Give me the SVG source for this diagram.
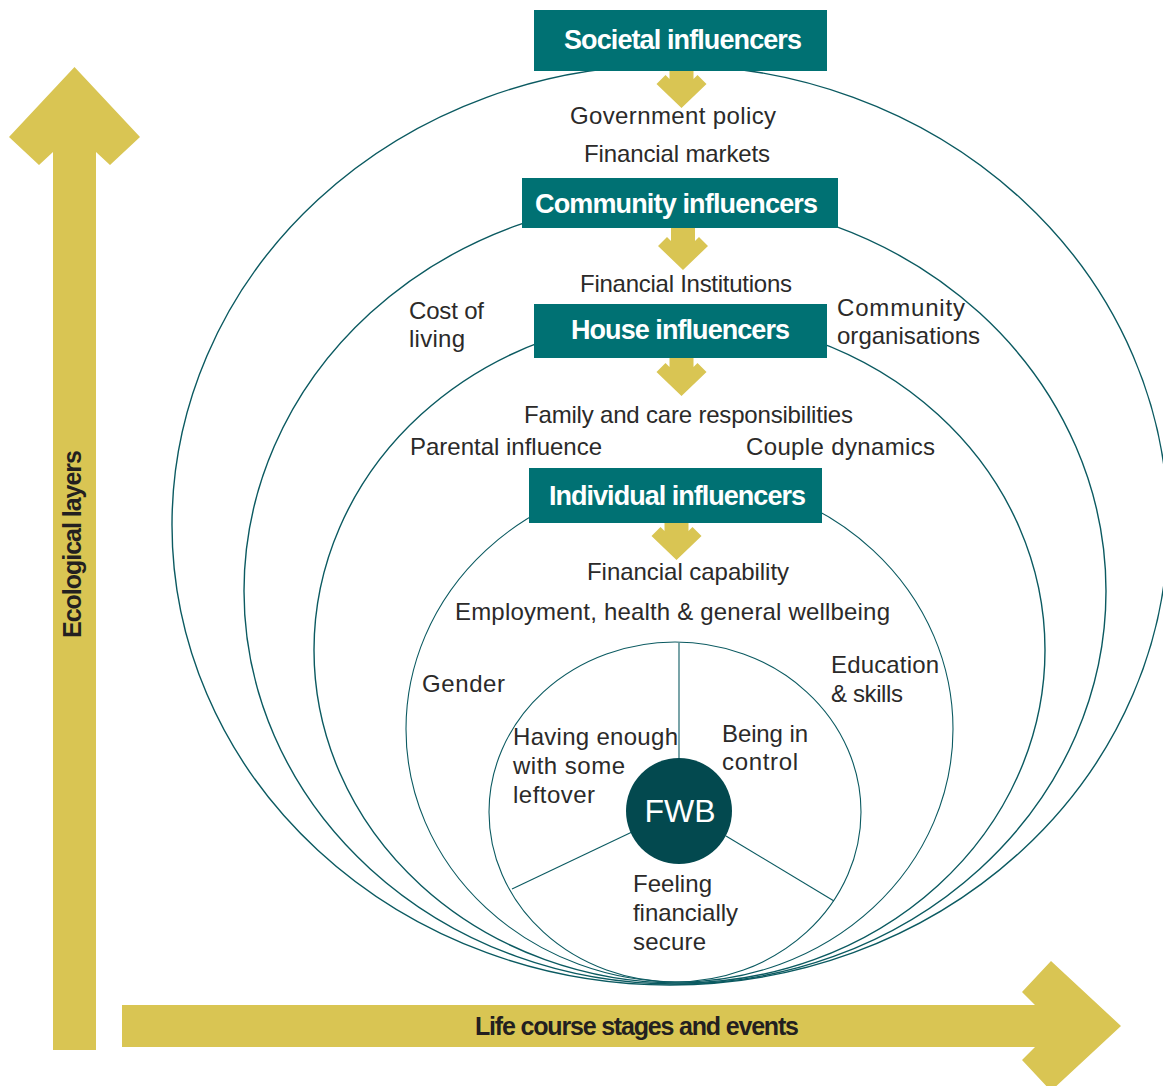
<svg xmlns="http://www.w3.org/2000/svg" width="1163" height="1086" viewBox="0 0 1163 1086">
<style>
.ring{fill:none;stroke:#0b5a61;stroke-width:1.4}
.ring2{fill:none;stroke:#0b5a61;stroke-width:1.1}
.sep{stroke:#0b5a61;stroke-width:1.1}
.box{fill:#007173}
.yel{fill:#d9c553}
.hd{font-family:"Liberation Sans",Arial,sans-serif;font-weight:bold;font-size:27px;fill:#ffffff;text-anchor:middle}
.ax{font-family:"Liberation Sans",Arial,sans-serif;font-weight:bold;font-size:25px;fill:#231f20}
.lb{font-family:"Liberation Sans",Arial,sans-serif;font-size:24px;fill:#2b2a29}
.fwb{font-family:"Liberation Sans",Arial,sans-serif;font-size:32px;fill:#ffffff;text-anchor:middle}
</style>
<defs>
<path id="darr" d="M-12,-45 L12,-45 L12,-29 L16,-33 L25,-24 L0,0 L-25,-24 L-16,-33 L-12,-29 Z"/>
</defs>
<rect width="1163" height="1086" fill="#ffffff"/>

<g id="axes">
<polygon class="yel" points="53,1050 53,152 39,165 9,137 74.5,67 140,137 110,165 96,152 96,1050"/>
<polygon class="yel" points="122,1005 1035,1005 1022,992 1051,961 1121,1026 1051,1091 1022,1060 1035,1047 122,1047"/>
<text class="ax" transform="translate(81,544) rotate(-90)" text-anchor="middle" textLength="188" font-size="27">Ecological layers</text>
<text class="ax" x="475" y="1035" textLength="324">Life course stages and events</text>
</g>

<g id="rings">
<ellipse id="ring-societal" class="ring" cx="670" cy="525" rx="498" ry="460"/>
<ellipse id="ring-community" class="ring" cx="675" cy="591" rx="431" ry="393"/>
<ellipse id="ring-house" class="ring" cx="679.5" cy="650" rx="365.5" ry="333"/>
<ellipse id="ring-individual" class="ring2" cx="679.5" cy="729" rx="273.5" ry="253"/>
<ellipse id="ring-fwb" class="ring2" cx="675" cy="812" rx="186" ry="170"/>
</g>

<g id="connectors">
<use href="#darr" class="yel" transform="translate(681.5,108)"/>
<use href="#darr" class="yel" transform="translate(683,270)"/>
<use href="#darr" class="yel" transform="translate(681.5,396)"/>
<use href="#darr" class="yel" transform="translate(676.5,560)"/>
<line class="sep" x1="679" y1="643" x2="679" y2="760"/>
<line class="sep" x1="512" y1="889" x2="632" y2="832"/>
<line class="sep" x1="726" y1="836" x2="834" y2="901"/>
</g>

<g id="societal">
<rect class="box" x="534" y="10" width="293" height="61"/>
<text class="hd" x="683" y="49" textLength="238">Societal influencers</text>
<text class="lb" x="570" y="124" textLength="206">Government policy</text>
<text class="lb" x="584" y="162" textLength="186">Financial markets</text>
</g>

<g id="community">
<rect class="box" x="522" y="178" width="316" height="50"/>
<text class="hd" x="676.5" y="213" textLength="283">Community influencers</text>
<text class="lb" x="580" y="292" textLength="212">Financial Institutions</text>
<text class="lb" x="409" y="319" textLength="75">Cost of</text>
<text class="lb" x="409" y="347" textLength="56">living</text>
<text class="lb" x="837" y="316" textLength="128">Community</text>
<text class="lb" x="837" y="344" textLength="143">organisations</text>
</g>

<g id="house">
<rect class="box" x="534" y="304" width="293" height="54"/>
<text class="hd" x="680.5" y="339" textLength="219">House influencers</text>
<text class="lb" x="524" y="423" textLength="329">Family and care responsibilities</text>
<text class="lb" x="410" y="455" textLength="192">Parental influence</text>
<text class="lb" x="746" y="455" textLength="189">Couple dynamics</text>
</g>

<g id="individual">
<rect class="box" x="529" y="468" width="293" height="55"/>
<text class="hd" x="677.5" y="505" textLength="257">Individual influencers</text>
<text class="lb" x="587" y="580" textLength="202">Financial capability</text>
<text class="lb" x="455" y="620" textLength="435">Employment, health &amp; general wellbeing</text>
<text class="lb" x="422" y="692" textLength="83">Gender</text>
<text class="lb" x="831" y="673" textLength="108">Education</text>
<text class="lb" x="831" y="702" textLength="72">&amp; skills</text>
</g>

<g id="fwb">
<text class="lb" x="513" y="745" textLength="165">Having enough</text>
<text class="lb" x="513" y="774" textLength="112">with some</text>
<text class="lb" x="513" y="803" textLength="82">leftover</text>
<text class="lb" x="722" y="742" textLength="86">Being in</text>
<text class="lb" x="722" y="770" textLength="76">control</text>
<text class="lb" x="633" y="892" textLength="79">Feeling</text>
<text class="lb" x="633" y="921" textLength="105">financially</text>
<text class="lb" x="633" y="950" textLength="73">secure</text>
<circle cx="679" cy="811" r="53" fill="#03494f"/>
<text class="fwb" x="680" y="822">FWB</text>
</g>
</svg>
